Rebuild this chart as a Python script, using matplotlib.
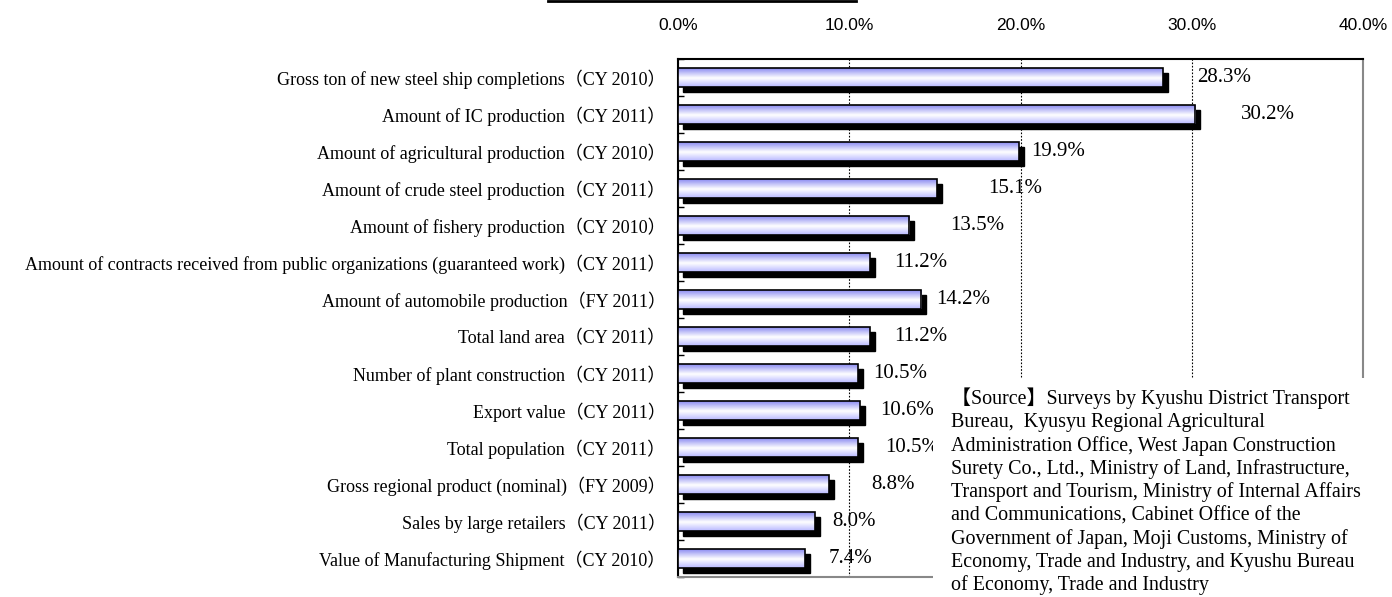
import numpy as np
import matplotlib
matplotlib.use("Agg")
import matplotlib.pyplot as plt
from matplotlib.colors import LinearSegmentedColormap
from matplotlib.lines import Line2D
from matplotlib.patches import Rectangle
import matplotlib.transforms as mtransforms

categories = [
    "Gross ton of new steel ship completions（CY 2010）",
    "Amount of IC production（CY 2011）",
    "Amount of agricultural production（CY 2010）",
    "Amount of crude steel production（CY 2011）",
    "Amount of fishery production（CY 2010）",
    "Amount of contracts received from public organizations (guaranteed work)（CY 2011）",
    "Amount of automobile production（FY 2011）",
    "Total land area（CY 2011）",
    "Number of plant construction（CY 2011）",
    "Export value（CY 2011）",
    "Total population（CY 2011）",
    "Gross regional product (nominal)（FY 2009）",
    "Sales by large retailers（CY 2011）",
    "Value of Manufacturing Shipment（CY 2010）",
]
shares = [28.3, 30.2, 19.9, 15.1, 13.5, 11.2, 14.2, 11.2, 10.5, 10.6, 10.5, 8.8, 8.0, 7.4]
tick_values = [0, 10, 20, 30, 40]

# where the value labels sit (in % units), they are placed by hand in the original
label_x = [30.3, 32.9, 20.6, 18.1, 15.9, 12.6, 15.1, 12.6, 11.4, 11.8, 12.1, 11.3, 9.0, 8.8]

source_lines = [
    "【Source】Surveys by Kyushu District Transport",
    "Bureau,  Kyusyu Regional Agricultural",
    "Administration Office, West Japan Construction",
    "Surety Co., Ltd., Ministry of Land, Infrastructure,",
    "Transport and Tourism, Ministry of Internal Affairs",
    "and Communications, Cabinet Office of the",
    "Government of Japan, Moji Customs, Ministry of",
    "Economy, Trade and Industry, and Kyushu Bureau",
    "of Economy, Trade and Industry",
]

serif = ["Liberation Serif", "Noto Sans CJK JP", "DejaVu Serif"]
sans = ["Liberation Sans", "DejaVu Sans"]

W, H = 1392, 597
fig = plt.figure(figsize=(W / 100, H / 100), dpi=100)
ax = fig.add_axes([678 / W, 1 - 577 / H, (1363 - 678) / W, (577 - 59) / H])

y = np.arange(len(categories))
bar_h = 0.52

# shadow bars, shifted right/down in pixels
shadow_tr = mtransforms.offset_copy(ax.transData, fig=fig, x=5, y=-5, units="dots")
ax.barh(y, shares, height=bar_h, color="black", edgecolor="black", transform=shadow_tr, zorder=2)

front = ax.barh(y, shares, height=bar_h, color="none", edgecolor="black", linewidth=1.2, zorder=4)

grad = LinearSegmentedColormap.from_list("lav", [(0.0, "#7f7ff0"), (0.55, "#ffffff"), (1.0, "#b8b8ff")])
g = np.linspace(0, 1, 64).reshape(-1, 1)
for b in front:
    x0, y0, w, h = b.get_x(), b.get_y(), b.get_width(), b.get_height()
    im = ax.imshow(g, cmap=grad, aspect="auto", extent=(x0, x0 + w, y0 + h, y0),
                   interpolation="bicubic", zorder=3)
    im.set_clip_path(b)

for yi, lx, v in zip(y, label_x, shares):
    ax.text(lx, yi, f"{v:.1f}%", va="center", ha="left", fontsize=15, family=serif, zorder=5)

ax.set_xlim(0, 40)
ax.set_ylim(len(categories) - 0.5, -0.5)
ax.set_xticks(tick_values)
ax.set_xticklabels([f"{t:.1f}%" for t in tick_values], family=sans, fontsize=12.5)
ax.xaxis.tick_top()
ax.tick_params(axis="x", length=0, pad=19)
ax.grid(axis="x", color="black", linestyle=(0, (1.5, 1.5)), linewidth=0.8, zorder=1)

ax.set_yticks(y)
ax.set_yticklabels(categories, family=serif, fontsize=13.0)
ax.tick_params(axis="y", length=0, pad=9)
ax.set_yticks(np.arange(len(categories) + 1) - 0.5, minor=True)
ax.tick_params(axis="y", which="minor", direction="in", length=4, width=1, color="black")

for side, col in [("top", "black"), ("left", "black"), ("right", "#888888"), ("bottom", "#888888")]:
    ax.spines[side].set_color(col)
    ax.spines[side].set_linewidth(1.5)
ax.set_axisbelow(True)

# cut-off line at the very top of the image
fig.add_artist(Line2D([548 / W, 856 / W], [0.999, 0.999], color="black", linewidth=2,
                      transform=fig.transFigure))

# white source box covering the lower right corner of the plot
fig.add_artist(Rectangle((933 / W, 0), 1 - 933 / W, 1 - 378 / H, transform=fig.transFigure,
                         facecolor="white", edgecolor="none", zorder=9))
for i, line in enumerate(source_lines):
    fig.text(951 / W, 1 - (404 + i * 23.3) / H, line, ha="left", va="baseline",
             fontsize=14.4, family=serif, zorder=10)

fig.savefig("out.png", dpi=100)
